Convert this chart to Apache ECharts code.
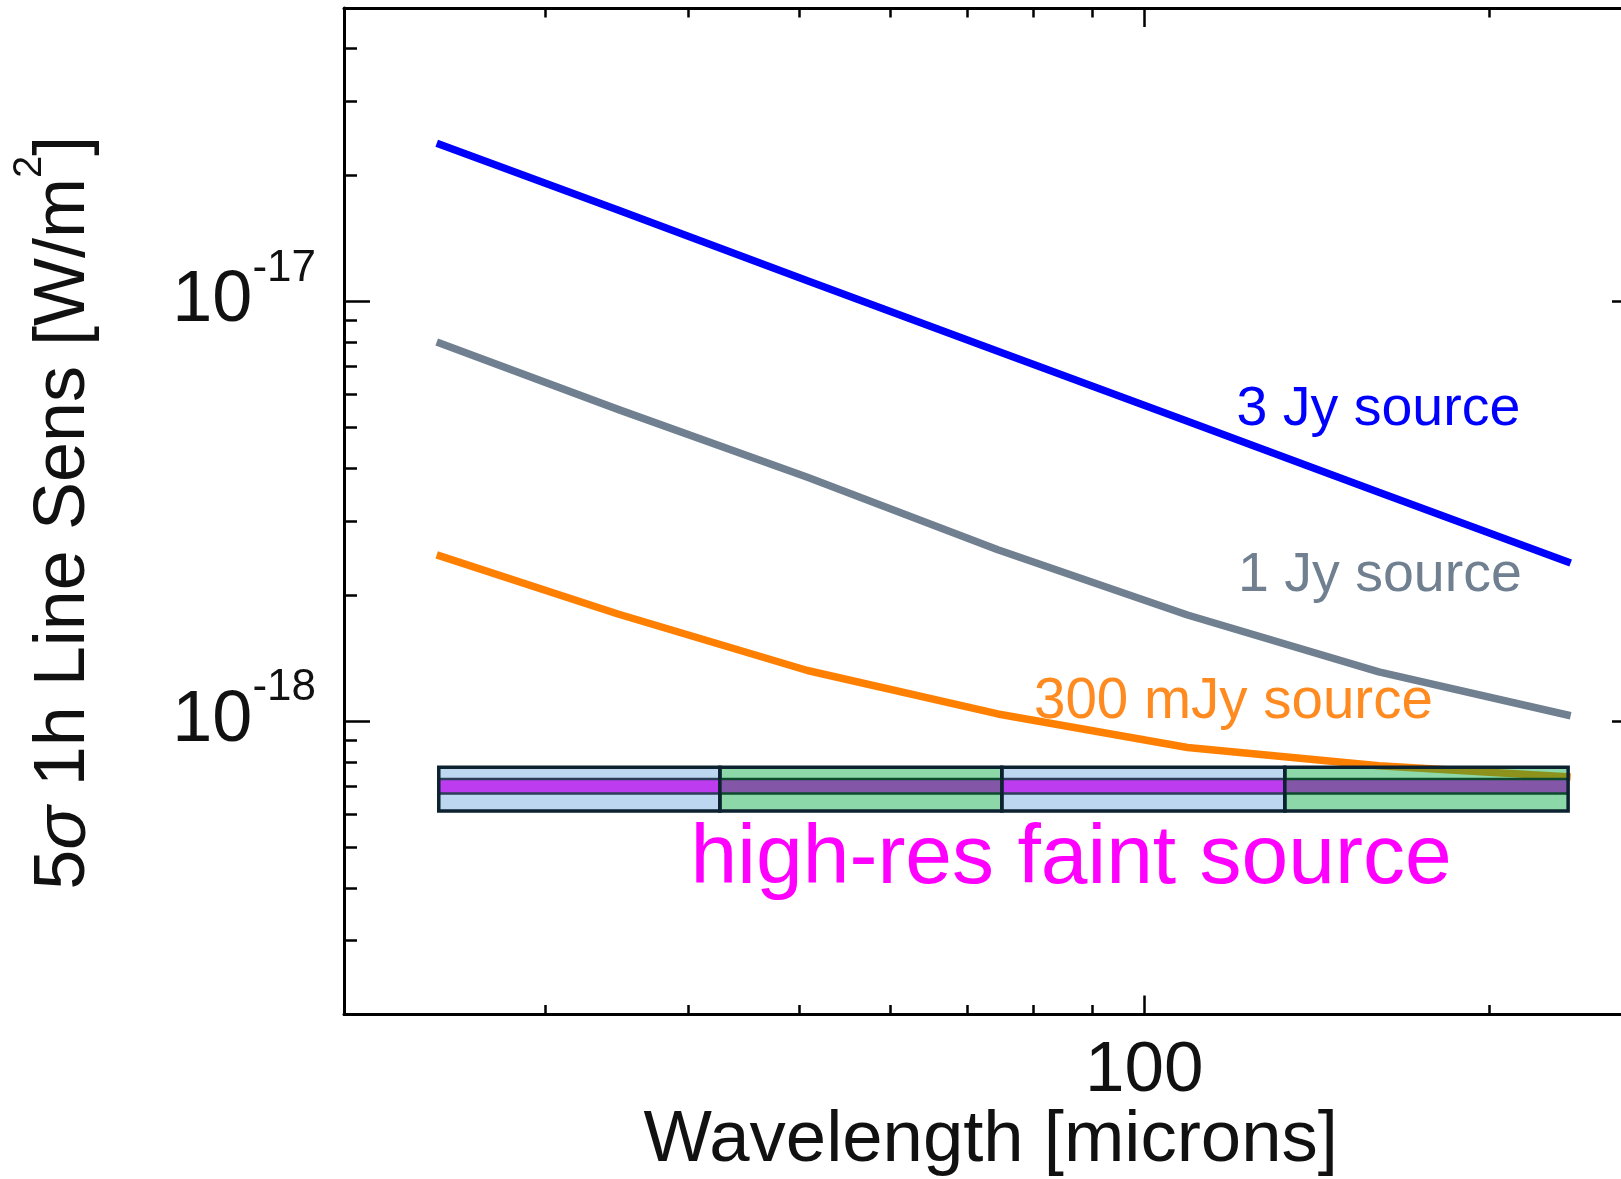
<!DOCTYPE html>
<html>
<head>
<meta charset="utf-8">
<script src="https://cdn.jsdelivr.net/npm/echarts@6/dist/echarts.min.js"></script>
<style>
    html, body { margin: 0; padding: 0; background: #ffffff; }
    #chart { width: 1621px; height: 1179px; }
</style>
</head>
<body>
<div id="chart"></div>
<script>
// wavelengths of the sensitivity curves [microns]
var wavelengths = [24.1, 34.7, 50.8, 74.5, 109.1, 160.3, 235.8];

// 5 sigma, 1h line sensitivity [W/m^2]
var sens3Jy    = [2.38e-17, 1.65e-17, 1.12e-17, 7.61e-18, 5.18e-18, 3.51e-18, 2.38e-18];
var sens1Jy    = [8.0e-18, 5.53e-18, 3.81e-18, 2.56e-18, 1.79e-18, 1.31e-18, 1.03e-18];
var sens300mJy = [2.49e-18, 1.80e-18, 1.32e-18, 1.04e-18, 8.65e-19, 7.83e-19, 7.36e-19];

// spectrometer bands and the high-res faint source level
var bandEdges  = [24.2, 42.6, 75.1, 132.7, 234.6];
var bandTop    = 7.76e-19;
var bandBottom = 6.11e-19;
var faintLevel = 7.0e-19;

// axes
var xRange = [20, 270];
var yRange = [2e-19, 5e-17];
var xMajorTicks = [100];
var xMinorTicks = [30, 40, 50, 60, 70, 80, 90, 200];
var yMajorTicks = [1e-18, 1e-17];
var yMinorTicks = [3e-19, 4e-19, 5e-19, 6e-19, 7e-19, 8e-19, 9e-19,
                   2e-18, 3e-18, 4e-18, 5e-18, 6e-18, 7e-18, 8e-18, 9e-18,
                   2e-17, 3e-17, 4e-17];

var FONT = '"Liberation Sans", Arial, sans-serif';

var bandLook = [
    { fill: '#bdd7f0', strip: '#bd3cf0', edge: '#2c3d57' },                    // blue bands
    { fill: 'rgba(0,168,62,0.45)', strip: '#8356a8', edge: '#0d4a2c' }        // green bands
];

function pairs(xs, ys) {
    return xs.map(function (x, i) { return [x, ys[i]]; });
}

function bandData(kind) {
    var out = [];
    for (var i = 0; i < bandEdges.length - 1; i++) {
        if (i % 2 === kind) {
            out.push([bandEdges[i], bandEdges[i + 1], bandBottom, bandTop, faintLevel]);
        }
    }
    return out;
}

function bandRenderer(kind) {
    var look = bandLook[kind];
    return function (params, api) {
        var p0 = api.coord([api.value(0), api.value(3)]);
        var p1 = api.coord([api.value(1), api.value(2)]);
        var ym = api.coord([api.value(0), api.value(4)])[1];
        var w = p1[0] - p0[0];
        var h = p1[1] - p0[1];
        return {
            type: 'group',
            children: [
                { type: 'rect', shape: { x: p0[0], y: p0[1], width: w, height: h }, style: { fill: look.fill } },
                { type: 'rect', shape: { x: p0[0], y: ym - 8.5, width: w, height: 17 }, style: { fill: look.edge } },
                { type: 'rect', shape: { x: p0[0], y: ym - 6, width: w, height: 12 }, style: { fill: look.strip } },
                { type: 'rect', shape: { x: p0[0], y: p0[1], width: w, height: h },
                  style: { fill: 'none', stroke: '#0c2230', lineWidth: 3.5 } }
            ]
        };
    };
}

function xAxisDef(grid, position, ticks, len, major) {
    return {
        type: 'log', logBase: 10, gridIndex: grid, position: position,
        min: xRange[0], max: xRange[1],
        axisLine: { show: major, lineStyle: { color: '#000', width: 3 } },
        axisTick: { show: true, inside: true, length: len, customValues: ticks,
                    lineStyle: { color: '#000', width: 2.5 } },
        axisLabel: (major && position === 'bottom') ? {
            show: true, customValues: xMajorTicks, margin: 21,
            color: '#111', fontSize: 71, fontFamily: FONT,
            formatter: function (v) { return String(Math.round(v)); }
        } : { show: false },
        splitLine: { show: false }, minorTick: { show: false }
    };
}

function yAxisDef(grid, position, ticks, len, major) {
    return {
        type: 'log', logBase: 10, gridIndex: grid, position: position,
        min: yRange[0], max: yRange[1],
        axisLine: { show: major, lineStyle: { color: '#000', width: 3 } },
        axisTick: { show: true, inside: true, length: len, customValues: ticks,
                    lineStyle: { color: '#000', width: 2.5 } },
        axisLabel: (major && position === 'left') ? {
            show: true, customValues: yMajorTicks, margin: 28,
            formatter: function (v) {
                return '{b|10}{s|' + Math.round(Math.log10(v)) + '}';
            },
            rich: {
                b: { fontSize: 72, fontFamily: FONT, color: '#111' },
                s: { fontSize: 44, fontFamily: FONT, color: '#111', padding: [0, 0, 66, 0] }
            }
        } : { show: false },
        splitLine: { show: false }, minorTick: { show: false }
    };
}

function note(text, x, y, size, color) {
    return {
        type: 'text', x: x, y: y, silent: true,
        style: { text: text, font: size + 'px ' + FONT, fill: color,
                 textAlign: 'left', textVerticalAlign: 'middle' }
    };
}

var chart = echarts.init(document.getElementById('chart'), null, { renderer: 'canvas' });

var gridBox = { left: 344, right: -17, top: 8, bottom: 164.5, containLabel: false, outerBoundsMode: 'none' };

var option = {
    animation: false,
    backgroundColor: '#ffffff',
    grid: [Object.assign({}, gridBox), Object.assign({}, gridBox)],
    xAxis: [
        xAxisDef(0, 'bottom', xMajorTicks, 19, true),
        xAxisDef(0, 'top', xMajorTicks, 19, true),
        xAxisDef(1, 'bottom', xMinorTicks, 9.5, false),
        xAxisDef(1, 'top', xMinorTicks, 9.5, false)
    ],
    yAxis: [
        yAxisDef(0, 'left', yMajorTicks, 26, true),
        yAxisDef(0, 'right', yMajorTicks, 26, true),
        yAxisDef(1, 'left', yMinorTicks, 13, false),
        yAxisDef(1, 'right', yMinorTicks, 13, false)
    ],
    series: [
        {
            type: 'custom', name: 'bands A', xAxisIndex: 0, yAxisIndex: 0, z: 1, silent: true,
            encode: { x: [0, 1], y: [2, 3, 4] },
            renderItem: bandRenderer(0), data: bandData(0)
        },
        {
            type: 'line', name: '3 Jy source', xAxisIndex: 0, yAxisIndex: 0, z: 2,
            data: pairs(wavelengths, sens3Jy), symbol: 'none', silent: true,
            lineStyle: { color: '#0000ff', width: 7.5 }
        },
        {
            type: 'line', name: '1 Jy source', xAxisIndex: 0, yAxisIndex: 0, z: 2,
            data: pairs(wavelengths, sens1Jy), symbol: 'none', silent: true,
            lineStyle: { color: '#708090', width: 7.5, join: 'round' }
        },
        {
            type: 'line', name: '300 mJy source', xAxisIndex: 0, yAxisIndex: 0, z: 2,
            data: pairs(wavelengths, sens300mJy), symbol: 'none', silent: true,
            lineStyle: { color: '#ff8000', width: 7.5, join: 'round' }
        },
        {
            type: 'custom', name: 'bands B', xAxisIndex: 0, yAxisIndex: 0, z: 4, silent: true,
            encode: { x: [0, 1], y: [2, 3, 4] },
            renderItem: bandRenderer(1), data: bandData(1)
        }
    ],
    graphic: [
        {
            type: 'text', x: 990.7, y: 1141.4, silent: true,
            style: { text: 'Wavelength [microns]', font: '72.5px ' + FONT, fill: '#111',
                     textAlign: 'center', textVerticalAlign: 'middle' }
        },
        {
            type: 'text', x: 64.5, y: 512.8, rotation: Math.PI / 2, silent: true,
            style: {
                text: '{a|5}{i|σ}{a| 1h Line Sens [W/m}{s|2}{a|]}',
                textAlign: 'center', textVerticalAlign: 'middle',
                rich: {
                    a: { fontSize: 72, fontFamily: FONT, fill: '#111' },
                    i: { fontSize: 72, fontFamily: FONT, fontStyle: 'italic', fill: '#111' },
                    s: { fontSize: 40, fontFamily: FONT, fill: '#111', padding: [0, 0, 70, 0] }
                }
            }
        },
        note('3 Jy source', 1236.5, 409.5, 55.5, '#0000ff'),
        note('1 Jy source', 1238, 575.5, 55.5, '#708090'),
        note('300 mJy source', 1034, 702.5, 56.5, '#ff8a1f'),
        note('high-res faint source', 690.6, 860, 84, '#ff00ff')
    ]
};

chart.setOption(option);
</script>
</body>
</html>
